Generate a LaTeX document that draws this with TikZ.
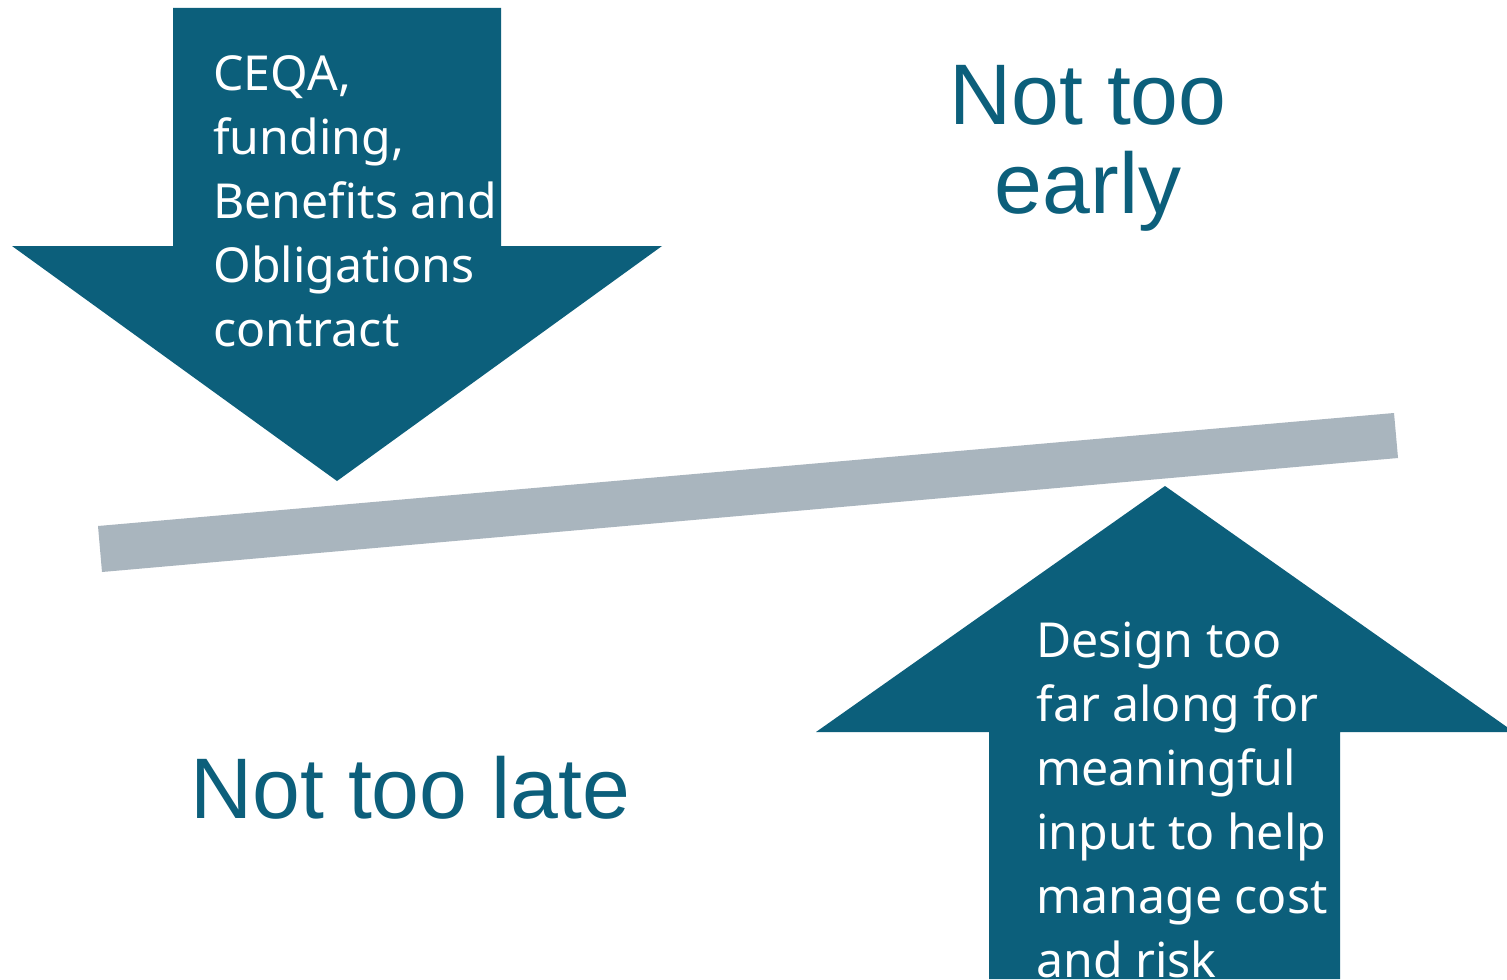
\documentclass[tikz,border=0pt]{standalone}
\usepackage{fontspec}
\setmainfont{Noto Sans}
\newfontfamily\labelfont{Liberation Sans}
\definecolor{arrowteal}{HTML}{0C5F7B}
\definecolor{beamgrey}{HTML}{A9B5BE}
\tikzset{
  bigarrow/.style={fill=arrowteal,draw=none},
  arrowtext/.style={text=white,align=left,inner sep=0pt,font=\fontsize{24.1}{32}\selectfont},
  sidetext/.style={text=arrowteal,align=center,inner sep=0pt,font=\labelfont\fontsize{43}{44}\selectfont}
}
\begin{document}
\begin{tikzpicture}[x=0.5pt,y=-0.5pt]
  \clip (0,0) rectangle (1507,979);
  \fill[white] (0,0) rectangle (1507,979);
  % balance beam
  \fill[beamgrey] (98,526) -- (1394,413) -- (1398,458) -- (102,572) -- cycle;
  % down arrow
  \fill[bigarrow] (173,8) -- (501,8) -- (501,246) -- (662,246) -- (337,481) -- (12,246) -- (173,246) -- cycle;
  % up arrow
  \fill[bigarrow] (989,979) -- (989,732) -- (816,732) -- (1165,486) -- (1514,732) -- (1340,732) -- (1340,979) -- cycle;
  % base anchor sits on the last line
  \node[arrowtext,anchor=base west] (push) at (213,346) {CEQA,\\funding,\\Benefits and\\Obligations\\contract};
  \node[arrowtext,anchor=base west] (lift) at (1036,977) {Design too\\far along for\\meaningful\\input to help\\manage cost\\and risk};
  \node[sidetext,anchor=base] (early) at (1088,213) {Not too\\early};
  \node[sidetext,anchor=base west] (late) at (190,818) {Not too late};
\end{tikzpicture}
\end{document}
